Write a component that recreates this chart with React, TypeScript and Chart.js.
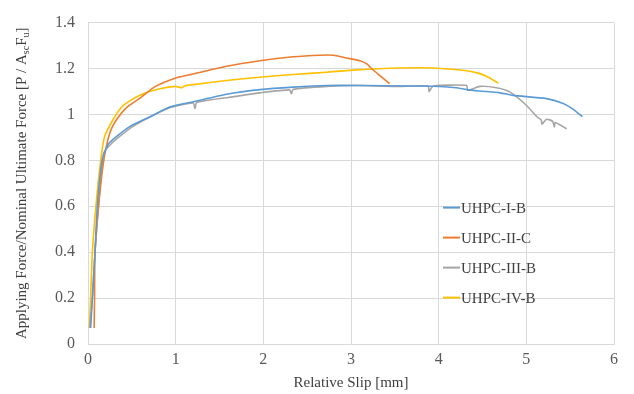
import React, { useEffect, useRef } from "react";
import { Chart, registerables } from "chart.js";

Chart.register(...registerables);

// ---- data ----
const seriesLabels = ["UHPC-I-B", "UHPC-II-C", "UHPC-III-B", "UHPC-IV-B"];
const seriesColors = ["#5B9BD5", "#ED7D31", "#A5A5A5", "#FFC000"];

const slipIB = [0.03, 0.05, 0.08, 0.106, 0.16, 0.23, 0.33, 0.48, 0.71, 0.94, 1.2, 1.58, 1.96, 2.34, 2.72, 3.18, 3.6, 3.94, 4.2, 4.32, 4.47, 4.7, 4.85, 5.23, 5.42, 5.52, 5.64];
const forceIB = [0.07, 0.2, 0.4, 0.6, 0.8, 0.869, 0.905, 0.948, 0.99, 1.033, 1.055, 1.088, 1.108, 1.119, 1.126, 1.126, 1.124, 1.123, 1.116, 1.108, 1.102, 1.094, 1.083, 1.069, 1.048, 1.026, 0.99];

const slipIIC = [0.07, 0.075, 0.08, 0.12, 0.18, 0.25, 0.33, 0.44, 0.59, 0.76, 1.01, 1.2, 1.58, 1.96, 2.34, 2.65, 2.8, 2.95, 3.1, 3.18, 3.24, 3.33, 3.44];
const forceIIC = [0.07, 0.2, 0.4, 0.6, 0.8, 0.92, 0.98, 1.03, 1.07, 1.12, 1.16, 1.176, 1.21, 1.234, 1.251, 1.258, 1.258, 1.246, 1.234, 1.22, 1.198, 1.169, 1.134];

const slipIIIB = [0.02, 0.05, 0.08, 0.12, 0.18, 0.26, 0.365, 0.5, 0.71, 0.94, 1.2, 1.22, 1.24, 1.58, 1.96, 2.3, 2.32, 2.34, 2.72, 3.06, 3.5, 3.88, 3.89, 3.94, 4.32, 4.33, 4.47, 4.66, 4.81, 5.0, 5.12, 5.17, 5.18, 5.23, 5.3, 5.32, 5.33, 5.46];
const forceIIIB = [0.07, 0.2, 0.4, 0.6, 0.833, 0.87, 0.905, 0.945, 0.99, 1.03, 1.05, 1.025, 1.052, 1.073, 1.094, 1.107, 1.09, 1.109, 1.122, 1.126, 1.122, 1.124, 1.1, 1.124, 1.126, 1.105, 1.122, 1.116, 1.098, 1.04, 0.99, 0.976, 0.958, 0.979, 0.97, 0.946, 0.965, 0.937];

const slipIVB = [0.015, 0.03, 0.05, 0.09, 0.145, 0.19, 0.29, 0.38, 0.48, 0.63, 0.82, 1.0, 1.07, 1.1, 1.2, 1.58, 1.96, 2.34, 2.72, 3.06, 3.56, 3.94, 4.32, 4.45, 4.55, 4.62, 4.68];
const forceIVB = [0.07, 0.2, 0.4, 0.6, 0.8, 0.905, 0.98, 1.03, 1.06, 1.09, 1.112, 1.122, 1.116, 1.124, 1.13, 1.148, 1.162, 1.174, 1.184, 1.194, 1.202, 1.202, 1.19, 1.18, 1.165, 1.15, 1.136];

const seriesSlips = [slipIB, slipIIC, slipIIIB, slipIVB];
const seriesForces = [forceIB, forceIIC, forceIIIB, forceIVB];

const xTicks = [0, 1, 2, 3, 4, 5, 6];
const yTicks = [0, 0.2, 0.4, 0.6, 0.8, 1, 1.2, 1.4];

const xTitle = "Relative Slip [mm]";
const yTitleParts: { t: string; sub: boolean }[] = [
  { t: "Applying Force/Nominal Ultimate Force [P / A", sub: false },
  { t: "sc", sub: true },
  { t: "F", sub: false },
  { t: "u", sub: true },
  { t: "]", sub: false },
];

const FONT = '"Liberation Serif", "Times New Roman", serif';
const TEXT = "#404040";

const legendPlugin = {
  id: "insideLegend",
  afterDraw(chart: any) {
    const ctx = chart.ctx;
    const area = chart.chartArea;
    const x0 = area.left + 355;
    const y0 = area.top + 185;
    ctx.save();
    ctx.font = `15px ${FONT}`;
    ctx.textBaseline = "middle";
    ctx.textAlign = "left";
    chart.data.datasets.forEach((ds: any, i: number) => {
      const y = y0 + i * 30;
      ctx.strokeStyle = ds.borderColor;
      ctx.lineWidth = 2;
      ctx.beginPath();
      ctx.moveTo(x0, y);
      ctx.lineTo(x0 + 17, y);
      ctx.stroke();
      ctx.fillStyle = TEXT;
      ctx.fillText(ds.label, x0 + 18, y + 1);
    });
    ctx.restore();
  },
};

const yTitlePlugin = {
  id: "yTitleSub",
  afterDraw(chart: any) {
    const ctx = chart.ctx;
    const area = chart.chartArea;
    const big = `15px ${FONT}`;
    const small = `10px ${FONT}`;
    ctx.save();
    let total = 0;
    yTitleParts.forEach((p) => {
      ctx.font = p.sub ? small : big;
      total += ctx.measureText(p.t).width;
    });
    const cy = (area.top + area.bottom) / 2;
    ctx.translate(22, cy);
    ctx.rotate(-Math.PI / 2);
    ctx.textBaseline = "middle";
    ctx.textAlign = "left";
    ctx.fillStyle = TEXT;
    let x = -total / 2;
    yTitleParts.forEach((p) => {
      ctx.font = p.sub ? small : big;
      ctx.fillText(p.t, x, p.sub ? 4 : 0);
      x += ctx.measureText(p.t).width;
    });
    ctx.restore();
  },
};

export default function App() {
  const ref = useRef<HTMLCanvasElement | null>(null);

  useEffect(() => {
    document.body.style.margin = "0";
    const canvas = ref.current;
    if (!canvas) return;
    const datasets = seriesLabels.map((label, i) => ({
      label,
      data: seriesSlips[i].map((x, j) => ({ x, y: seriesForces[i][j] })),
      borderColor: seriesColors[i],
      backgroundColor: seriesColors[i],
      borderWidth: 1.6,
      pointRadius: 0,
      tension: 0.2,
      fill: false,
    }));
    const chart = new Chart(canvas, {
      type: "line",
      data: { datasets },
      options: {
        responsive: false,
        animation: false,
        events: [],
        layout: { padding: { left: 0, top: 18, right: 20, bottom: 0 } },
        plugins: {
          legend: { display: false },
          tooltip: { enabled: false },
        },
        scales: {
          x: {
            type: "linear",
            min: 0,
            max: 6,
            afterFit: (s: any) => {
              s.height = 50;
            },
            afterBuildTicks: (s: any) => {
              s.ticks = xTicks.map((v) => ({ value: v }));
            },
            grid: { color: "#d9d9d9", drawTicks: false },
            border: { color: "#d9d9d9" },
            ticks: {
              padding: 6,
              color: "#595959",
              font: { family: FONT, size: 16 },
              callback: (v: any) => String(v),
            },
            title: {
              display: true,
              text: xTitle,
              color: TEXT,
              font: { family: FONT, size: 15 },
              padding: { top: 0, bottom: 2 },
            },
          },
          y: {
            type: "linear",
            min: 0,
            max: 1.4,
            afterFit: (s: any) => {
              s.width = 88;
            },
            afterBuildTicks: (s: any) => {
              s.ticks = yTicks.map((v) => ({ value: v }));
            },
            grid: { color: "#d9d9d9", drawTicks: false },
            border: { color: "#d9d9d9" },
            ticks: {
              padding: 13,
              color: "#595959",
              font: { family: FONT, size: 16 },
              callback: (v: any) => String(v),
            },
          },
        },
      },
      plugins: [legendPlugin, yTitlePlugin],
    } as any);
    return () => chart.destroy();
  }, []);

  return (
    <div style={{ width: 634, height: 394, background: "#fff" }}>
      <canvas ref={ref} width={634} height={394} style={{ display: "block" }} />
    </div>
  );
}
